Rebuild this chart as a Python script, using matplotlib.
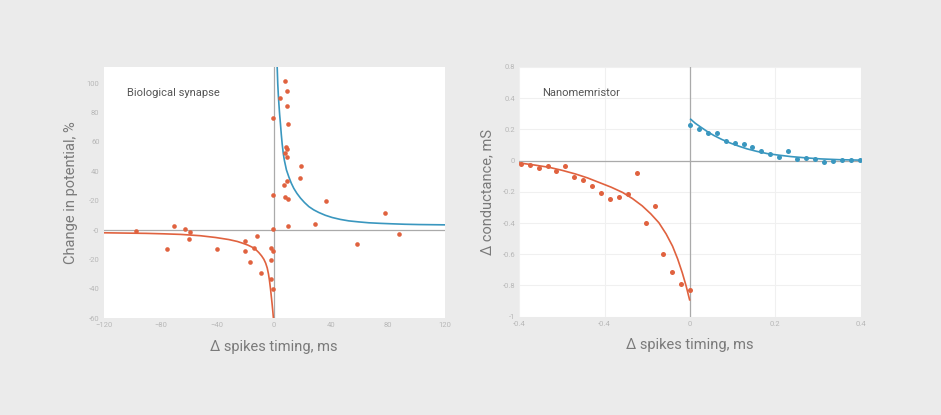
import numpy as np
import matplotlib
matplotlib.use("Agg")
import matplotlib.pyplot as plt

plt.rcParams['font.family'] = ['Roboto', 'DejaVu Sans']

# ---- biological synapse (left) ----
bio_x = [-97.6, -75.8, -70.8, -62.9, -59.1, -60.1, -40.1, -20.9, -20.6, -14.3,
         -12.0, -16.7, -9.6, -2.3, -1.2, -2.1, -2.1, -1.2, -0.9, -0.9,
         -0.9, 4.2, 7.5, 8.9, 8.7, 9.4, 8.2, 9.1, 7.5, 9.1,
         19.0, 18.1, 8.7, 6.6, 7.7, 9.4, 9.6, 36.8, 28.4, 58.6,
         78.1, 87.5]
bio_y = [-0.5, -12.5, 3.0, 0.5, -1.0, -6.1, -12.5, -7.5, -13.9, -12.0,
         -3.9, -21.4, -29.5, -33.2, -40.2, -20.5, -12.0, -14.5, 0.9, 24.1,
         76.6, 89.8, 101.4, 94.8, 84.3, 72.5, 56.8, 55.2, 52.5, 50.0,
         43.9, 35.5, 33.6, 30.7, 22.3, 20.9, 2.7, 19.5, 4.3, -9.1,
         11.4, -2.3]

bio_fit_pos_x = [2.1, 2.5, 2.9, 3.3, 3.8, 4.4, 5.0, 5.6, 6.4, 7.2, 8.6, 10.3, 12.0,
                 13.8, 16.0, 18.5, 21.3, 24.4, 27.8, 31.4, 36.0, 40.8, 46.5, 52.5,
                 59.5, 66.6, 75.0, 83.0, 92.0, 101.8, 111.0, 120.0]
bio_fit_pos_y = [110.8, 99.5, 92.0, 85.9, 79.0, 72.3, 65.0, 58.7, 52.0, 47.3, 41.0, 36.2, 32.0,
                 28.4, 25.0, 21.8, 18.8, 16.0, 13.8, 12.0, 10.1, 8.6, 7.3, 6.3,
                 5.6, 5.0, 4.6, 4.3, 4.0, 3.8, 3.7, 3.6]
bio_fit_neg_x = [-120, -105, -90, -78, -65.9, -52, -41.3, -32, -26, -22.5, -18.5, -15.5,
                 -13, -10.8, -8.9, -7.3, -6.0, -4.9, -4.0, -3.3, -2.6, -2.1, -1.5, -1.0, -0.6]
bio_fit_neg_y = [-1.8, -2.0, -2.2, -2.5, -2.9, -3.8, -5.0, -6.4, -7.7, -8.8, -10.2, -11.6,
                 -13.2, -15.3, -17.5, -19.8, -22.5, -25.8, -30.0, -34.5, -40.0, -44.5, -50.0, -55.0, -59.5]

bio_xticks = [-120, -80, -40, 0, 40, 80, 120]
bio_yticks = [-60, -40, -20, 0, 20, 40, 60, 80, 100]
bio_ylabels = ['-60', '-40', '-20', '-0', '-20', '40', '60', '80', '100']

# ---- nanomemristor (right) ----
nano_pos_x = [0.0, 0.0218, 0.0428, 0.063, 0.084, 0.105, 0.126, 0.146, 0.167, 0.188,
              0.209, 0.230, 0.251, 0.272, 0.293, 0.314, 0.335, 0.356, 0.377, 0.398]
nano_pos_y = [0.226, 0.202, 0.176, 0.178, 0.123, 0.114, 0.108, 0.088, 0.062, 0.045,
              0.026, 0.062, 0.013, 0.017, 0.009, -0.009, 0.0, 0.006, 0.002, 0.006]
nano_neg_x = [-0.397, -0.376, -0.355, -0.334, -0.313, -0.292, -0.271, -0.250, -0.229, -0.208,
              -0.187, -0.166, -0.145, -0.125, -0.104, -0.083, -0.063, -0.042, -0.021, 0.0]
nano_neg_y = [-0.024, -0.028, -0.045, -0.037, -0.067, -0.032, -0.105, -0.127, -0.161, -0.209,
              -0.243, -0.232, -0.217, -0.080, -0.402, -0.292, -0.600, -0.714, -0.789, -0.826]

nano_fit_pos_x = [0.0016, 0.012, 0.025, 0.04, 0.056, 0.075, 0.095, 0.115, 0.134, 0.157,
                  0.181, 0.208, 0.236, 0.27, 0.306, 0.35, 0.40]
nano_fit_pos_y = [0.265, 0.240, 0.215, 0.187, 0.161, 0.135, 0.112, 0.092, 0.075, 0.059,
                  0.045, 0.035, 0.026, 0.018, 0.011, 0.006, 0.003]
nano_fit_neg_x = [-0.40, -0.365, -0.33, -0.30, -0.268, -0.24, -0.213, -0.185, -0.158, -0.135,
                  -0.112, -0.092, -0.073, -0.056, -0.041, -0.029, -0.018, -0.009, -0.001]
nano_fit_neg_y = [-0.015, -0.028, -0.043, -0.062, -0.086, -0.111, -0.140, -0.170, -0.204, -0.243,
                  -0.290, -0.341, -0.398, -0.470, -0.548, -0.630, -0.720, -0.805, -0.892]

nano_xticks = [-0.4, -0.2, 0, 0.2, 0.4]
nano_xlabels = ['-0.4', '-0.4', '0', '0.2', '0.4']
nano_yticks = [-1, -0.8, -0.6, -0.4, -0.2, 0, 0.2, 0.4, 0.6]
nano_ylabels = ['-1', '-0.8', '-0.6', '-0.4', '-0.2', '0', '0.2', '0.4', '0.8']

orange = '#e0623f'
blue = '#3a97bf'
bg = '#ebebeb'
tick_col = '#b8b8b8'
label_col = '#7a7a7a'

fig = plt.figure(figsize=(9.41, 4.15), dpi=100, facecolor=bg)
ax1 = fig.add_axes([0.1102, 0.233, 0.3624, 0.6055])
ax2 = fig.add_axes([0.5519, 0.2369, 0.3628, 0.6017])

for ax in (ax1, ax2):
    ax.set_facecolor('white')
    for s in ax.spines.values():
        s.set_visible(False)
    ax.tick_params(length=0, labelsize=5.5, labelcolor=tick_col, pad=3)
    ax.axhline(0, color='#aaaaaa', lw=0.9, zorder=1)
    ax.axvline(0, color='#aaaaaa', lw=0.9, zorder=1)
    ax.set_xlabel('Δ spikes timing, ms', fontsize=10.5, color=label_col, labelpad=8)

# left
ax1.plot(bio_fit_pos_x, bio_fit_pos_y, color=blue, lw=1.2, zorder=2)
ax1.plot(bio_fit_neg_x, bio_fit_neg_y, color=orange, lw=1.2, zorder=2)
ax1.scatter(bio_x, bio_y, s=11, color=orange, zorder=3, linewidths=0)
ax1.set_xlim(-120, 120)
ax1.set_ylim(-60, 111)
ax1.set_xticks(bio_xticks)
ax1.set_yticks(bio_yticks)
ax1.set_yticklabels(bio_ylabels)
ax1.set_ylabel('Change in potential, %', fontsize=10.5, color=label_col, labelpad=6)
ax1.text(0.068, 0.897, 'Biological synapse', transform=ax1.transAxes,
         fontsize=8, color='#555555', va='center')

# right
ax2.grid(True, color='#f0f0f0', lw=0.8, zorder=0)
ax2.set_axisbelow(True)
ax2.plot(nano_fit_pos_x, nano_fit_pos_y, color=blue, lw=1.2, zorder=2)
ax2.plot(nano_fit_neg_x, nano_fit_neg_y, color=orange, lw=1.2, zorder=2)
ax2.scatter(nano_pos_x, nano_pos_y, s=13, color=blue, zorder=3, linewidths=0)
ax2.scatter(nano_neg_x, nano_neg_y, s=13, color=orange, zorder=3, linewidths=0)
ax2.set_xlim(-0.4, 0.4)
ax2.set_ylim(-1, 0.6)
ax2.set_xticks(nano_xticks)
ax2.set_xticklabels(nano_xlabels)
ax2.set_yticks(nano_yticks)
ax2.set_yticklabels(nano_ylabels)
ax2.set_ylabel('Δ conductance, mS', fontsize=10.5, color=label_col, labelpad=6)
ax2.text(0.066, 0.897, 'Nanomemristor', transform=ax2.transAxes,
         fontsize=8, color='#555555', va='center')

fig.savefig('out.png', dpi=100, facecolor=bg)
